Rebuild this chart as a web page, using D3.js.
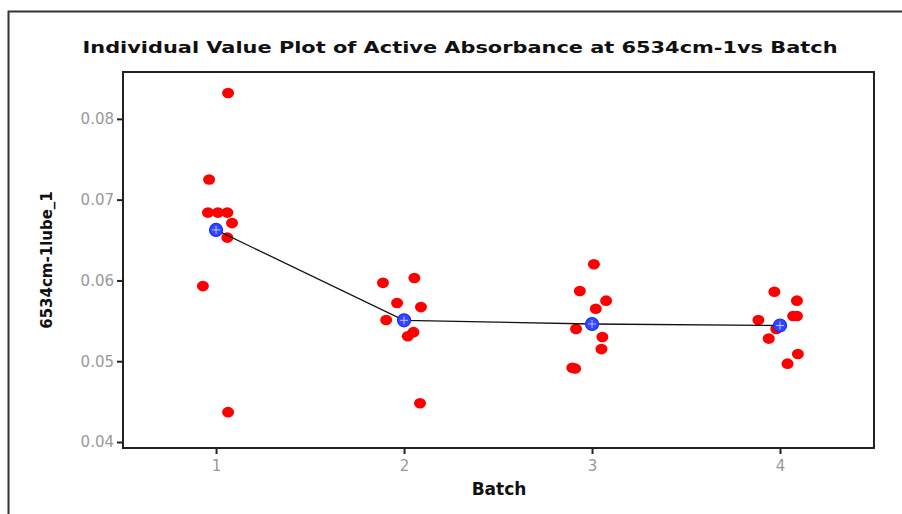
<!DOCTYPE html>
<html>
<head>
<meta charset="utf-8">
<script src="https://cdn.jsdelivr.net/npm/d3@7"></script>
<style>
  body { margin: 0; background: #fff; }
  svg { display: block; }
</style>
</head>
<body>
<div id="chart"></div>
<script>
// batches on the x axis
var batches = [1, 2, 3, 4];
var batch1 = [0.0832, 0.0725, 0.0684, 0.0684, 0.0684, 0.0671, 0.0653, 0.0593, 0.0437];
var batch2 = [0.0603, 0.0597, 0.0572, 0.0567, 0.0551, 0.0536, 0.0531, 0.0448];
var batch3 = [0.0620, 0.0587, 0.0575, 0.0565, 0.0540, 0.0530, 0.0515, 0.0492, 0.0491];
var batch4 = [0.0586, 0.0575, 0.0556, 0.0556, 0.0551, 0.0540, 0.0528, 0.0509, 0.0497];
// horizontal jitter (in batch units) of each dot, as drawn
var jitter1 = [0.064, -0.037, -0.043, 0.010, 0.060, 0.085, 0.060, -0.070, 0.064];
var jitter2 = [0.055, -0.112, -0.037, 0.090, -0.095, 0.050, 0.020, 0.085];
var jitter3 = [0.010, -0.065, 0.075, 0.020, -0.085, 0.055, 0.050, -0.105, -0.090];
var jitter4 = [-0.030, 0.090, 0.070, 0.090, -0.115, -0.020, -0.060, 0.095, 0.040];
var yTicks = [0.04, 0.05, 0.06, 0.07, 0.08];

var values = [batch1, batch2, batch3, batch4];
var jitters = [jitter1, jitter2, jitter3, jitter4];

var W = 902, H = 514;
var margin = {left: 123, right: 28, top: 72, bottom: 66};

var svg = d3.select("#chart").append("svg")
	.attr("width", W)
	.attr("height", H);

// outer frame
svg.append("path")
	.attr("d", "M8.5," + H + "V11.5H" + W)
	.attr("fill", "none")
	.attr("stroke", "#333")
	.attr("stroke-width", 2);

var x = d3.scaleLinear()
	.domain([0.505, 4.5])
	.range([margin.left, W - margin.right]);

var y = d3.scaleLinear()
	.domain([0.03926, 0.0858])
	.range([H - margin.bottom, margin.top]);

// plot box
svg.append("rect")
	.attr("x", margin.left)
	.attr("y", margin.top)
	.attr("width", W - margin.right - margin.left)
	.attr("height", H - margin.bottom - margin.top)
	.attr("fill", "none")
	.attr("stroke", "#222")
	.attr("stroke-width", 2);

// axes
var yAxis = svg.append("g")
	.attr("transform", "translate(" + margin.left + ",0)")
	.call(d3.axisLeft(y).tickValues(yTicks).tickFormat(d3.format(".2f")).tickSize(6).tickPadding(3));

var xAxis = svg.append("g")
	.attr("transform", "translate(0," + (H - margin.bottom) + ")")
	.call(d3.axisBottom(x).tickValues(batches).tickFormat(d3.format("d")).tickSize(6).tickPadding(6));

[yAxis, xAxis].forEach(function(a){
	a.select(".domain").remove();
	a.selectAll(".tick line").attr("stroke", "#222").attr("stroke-width", 2);
	a.selectAll(".tick text")
		.attr("fill", "#999")
		.style("font-family", "DejaVu Sans, sans-serif")
		.style("font-size", "15px");
});

// means
var means = values.map(function(v, i){
	return {batch: batches[i], mean: d3.mean(v)};
});

var line = d3.line()
	.x(function(d){ return x(d.batch); })
	.y(function(d){ return y(d.mean); });

// dots
values.forEach(function(v, i){
	svg.append("g").selectAll("ellipse")
		.data(v)
		.enter().append("ellipse")
		.attr("cx", function(d, j){ return x(batches[i] + jitters[i][j]); })
		.attr("cy", function(d){ return y(d); })
		.attr("rx", 6)
		.attr("ry", 5.3)
		.attr("fill", "#ff0000");
});

svg.append("path")
	.datum(means)
	.attr("d", line)
	.attr("fill", "none")
	.attr("stroke", "#111")
	.attr("stroke-width", 1.3);

var mk = svg.append("g").selectAll("g")
	.data(means)
	.enter().append("g")
	.attr("transform", function(d){ return "translate(" + x(d.batch) + "," + y(d.mean) + ")"; });

mk.append("circle")
	.attr("r", 6.5)
	.attr("fill", "#3346ff")
	.attr("stroke", "#1a2cff")
	.attr("stroke-width", 1.2);

mk.append("path")
	.attr("d", "M-4,0H4M0,-4V4")
	.attr("stroke", "#b8c0ff")
	.attr("stroke-width", 1);

// title and labels
svg.append("text")
	.attr("x", 460)
	.attr("y", 53)
	.attr("text-anchor", "middle")
	.attr("textLength", 755)
	.attr("lengthAdjust", "spacingAndGlyphs")
	.style("font-family", "DejaVu Sans, sans-serif")
	.style("font-weight", "bold")
	.style("font-size", "16px")
	.attr("fill", "#111")
	.text("Individual Value Plot of Active Absorbance at 6534cm-1vs Batch");

svg.append("text")
	.attr("x", 499)
	.attr("y", 495)
	.attr("text-anchor", "middle")
	.style("font-family", "DejaVu Sans, sans-serif")
	.style("font-weight", "bold")
	.style("font-size", "17px")
	.attr("fill", "#111")
	.text("Batch");

svg.append("text")
	.attr("transform", "translate(52," + ((margin.top + H - margin.bottom) / 2) + ") rotate(-90)")
	.attr("text-anchor", "middle")
	.style("font-family", "DejaVu Sans, sans-serif")
	.style("font-weight", "bold")
	.style("font-size", "15px")
	.attr("fill", "#111")
	.text("6534cm-1lube_1");
</script>
</body>
</html>
